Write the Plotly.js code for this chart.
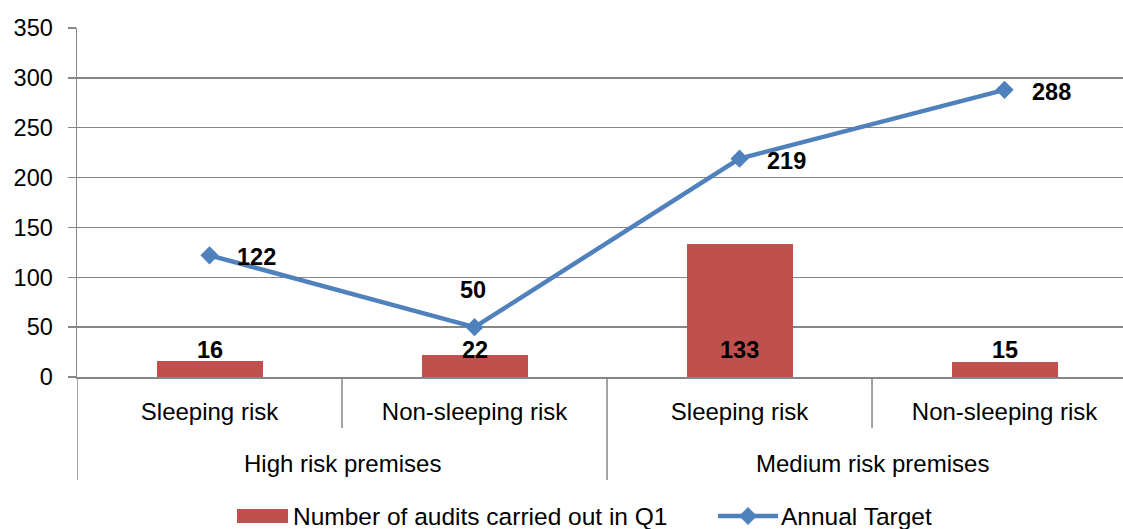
<!DOCTYPE html>
<html>
<head>
<meta charset="utf-8">
<script src="https://cdn.plot.ly/plotly-3.0.1.min.js"></script>
<style>html,body{margin:0;padding:0;background:#fff;overflow:hidden}#chart{width:1123px;height:529px}</style>
</head>
<body>
<div id="chart"></div>
<script>
// ---- data ----
var groups = ["High risk premises", "High risk premises", "Medium risk premises", "Medium risk premises"];
var subCategories = ["Sleeping risk", "Non-sleeping risk", "Sleeping risk", "Non-sleeping risk"];
var auditsQ1 = [16, 22, 133, 15];
var annualTarget = [122, 50, 219, 288];
var seriesNames = ["Number of audits carried out in Q1", "Annual Target"];
var yTicks = [0, 50, 100, 150, 200, 250, 300, 350];

// ---- build ----
var FONT = "'Liberation Sans', Arial, sans-serif";
var BAR_COLOR = "#C0504D", LINE_COLOR = "#4F81BD", AXIS_COLOR = "#868686";
var W = 1123, H = 529, ML = 77, MR = 0, MT = 28, MB = 152;
var plotW = W - ML - MR, plotH = H - MT - MB;
function px2paperX(px) { return (px - ML) / plotW; }
function px2paperY(py) { return (H - MB - py) / plotH; }

var xIdx = subCategories.map(function (_, i) { return i; });

var barTrace = {
  type: "bar", x: xIdx, y: auditsQ1, name: seriesNames[0],
  width: 0.4, marker: { color: BAR_COLOR }, showlegend: false
};
var lineTrace = {
  type: "scatter", mode: "lines+markers", x: xIdx, y: annualTarget, name: seriesNames[1],
  line: { color: LINE_COLOR, width: 4.5 },
  marker: { symbol: "diamond", size: 14, color: LINE_COLOR }, showlegend: false
};

var annotations = [];
// bar value labels
auditsQ1.forEach(function (v, i) {
  annotations.push({ x: i, y: 0, xref: "x", yref: "y", text: "<b>" + v + "</b>", showarrow: false,
    yanchor: "middle", xanchor: "center", yshift: 27, font: { family: FONT, size: 23.5, color: "#000" } });
});
// line value labels
var lineLabelPlacement = ["right", "top", "right", "right"];
annualTarget.forEach(function (v, i) {
  var p = lineLabelPlacement[i];
  annotations.push({ x: i, y: v, xref: "x", yref: "y", text: "<b>" + v + "</b>", showarrow: false,
    xanchor: p === "right" ? "left" : "center", yanchor: "middle",
    xshift: p === "right" ? 25 : -2, yshift: p === "top" ? 37 : -2,
    font: { family: FONT, size: 23.5, color: "#000" } });
});
// group labels
var uniqueGroups = [];
groups.forEach(function (g, i) {
  var last = uniqueGroups[uniqueGroups.length - 1];
  if (!last || last.name !== g) uniqueGroups.push({ name: g, start: i, end: i });
  else last.end = i;
});
uniqueGroups.forEach(function (g) {
  annotations.push({ x: (g.start + g.end) / 2, y: px2paperY(463), xref: "x", yref: "paper", text: g.name,
    showarrow: false, xanchor: "center", yanchor: "middle", font: { family: FONT, size: 24, color: "#000" } });
});

// dividers
var shapes = [];
for (var i = 0; i <= subCategories.length; i++) {
  var isGroupEdge = (i === 0 || i === subCategories.length || groups[i] !== groups[i - 1]);
  shapes.push({ type: "line", xref: "x", yref: "paper", x0: i - 0.5, x1: i - 0.5,
    y0: 0, y1: px2paperY(isGroupEdge ? 480 : 428), line: { color: AXIS_COLOR, width: 1.5 } });
}

// custom legend
var legY = px2paperY(516);
shapes.push({ type: "rect", xref: "paper", yref: "paper",
  x0: px2paperX(237), x1: px2paperX(288), y0: px2paperY(523), y1: px2paperY(509),
  fillcolor: BAR_COLOR, line: { width: 0 } });
annotations.push({ xref: "paper", yref: "paper", x: px2paperX(291), y: legY, xanchor: "left", yanchor: "middle",
  text: seriesNames[0], showarrow: false, font: { family: FONT, size: 24.5, color: "#000" } });
shapes.push({ type: "line", xref: "paper", yref: "paper",
  x0: px2paperX(718), x1: px2paperX(778), y0: legY, y1: legY, line: { color: LINE_COLOR, width: 4.5 } });
var dcx = px2paperX(748), dw = 9 / plotW, dh = 9 / plotH;
shapes.push({ type: "path", xref: "paper", yref: "paper",
  path: "M " + (dcx - dw) + " " + legY + " L " + dcx + " " + (legY + dh) + " L " + (dcx + dw) + " " + legY +
        " L " + dcx + " " + (legY - dh) + " Z", fillcolor: LINE_COLOR, line: { width: 0 } });
annotations.push({ xref: "paper", yref: "paper", x: px2paperX(779), y: legY, xanchor: "left", yanchor: "middle",
  text: seriesNames[1], showarrow: false, font: { family: FONT, size: 24.5, color: "#000" } });

var layout = {
  width: W, height: H,
  margin: { l: ML, r: MR, t: MT, b: MB, autoexpand: false },
  paper_bgcolor: "#fff", plot_bgcolor: "#fff",
  font: { family: FONT, size: 23.5, color: "#000" },
  showlegend: false,
  xaxis: {
    range: [-0.5, 3.447], tickvals: xIdx, ticktext: subCategories, ticks: "",
    showline: true, linecolor: AXIS_COLOR, linewidth: 1.5, showgrid: false, zeroline: false,
    ticklabelstandoff: 13, tickfont: { family: FONT, size: 24, color: "#000" }, fixedrange: true
  },
  yaxis: {
    range: [0, 350], tickvals: yTicks, ticks: "outside", ticklen: 8, tickcolor: AXIS_COLOR, tickwidth: 1.5,
    showline: true, linecolor: AXIS_COLOR, linewidth: 1.5, showgrid: true, gridcolor: AXIS_COLOR, gridwidth: 1.5,
    zeroline: false, ticklabelstandoff: 10, tickfont: { family: FONT, size: 23.5, color: "#000" }, fixedrange: true
  },
  annotations: annotations,
  shapes: shapes,
  bargap: 0
};

Plotly.newPlot("chart", [barTrace, lineTrace], layout, { displayModeBar: false, staticPlot: true });
</script>
</body>
</html>
